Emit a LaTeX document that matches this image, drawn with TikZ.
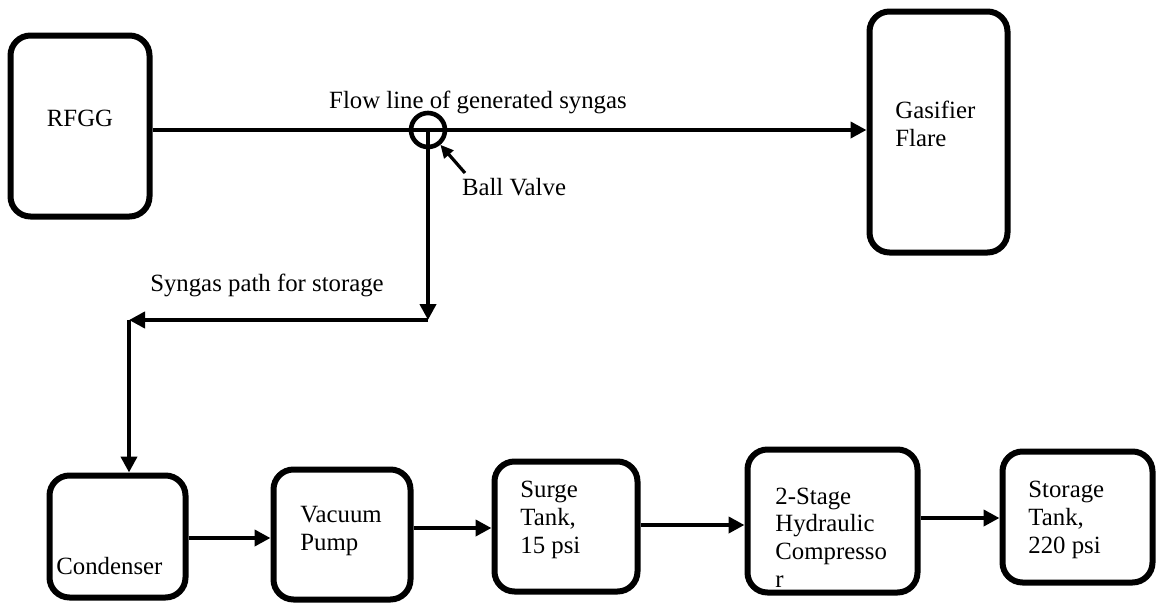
\documentclass[tikz,border=0pt]{standalone}
\usepackage{fontspec}
\setmainfont{Liberation Serif}
\usetikzlibrary{arrows.meta}
\definecolor{darkline}{HTML}{000000}
\tikzset{
  unit/.style={rectangle, rounded corners=10pt, draw=darkline, line width=3pt,
               inner sep=0pt},
  valvering/.style={circle, draw=darkline, line width=2.3pt, minimum size=17pt,
                    inner sep=0pt},
  flow/.style={-{Triangle[length=8pt, width=8pt]}, line width=2.4pt, draw=darkline},
  pointer/.style={-{Triangle[length=6.5pt, width=6pt]}, line width=1.6pt, draw=darkline},
  caption/.style={font=\fontsize{12.4}{13.8}\selectfont, inner sep=0pt},
  boxtext/.style={caption, align=left, anchor=west},
}

\begin{document}
\begin{tikzpicture}[x=0.5pt, y=-0.5pt]
\useasboundingbox (0,0) rectangle (1157,605);

% Top row: generator and flare
\node[unit, minimum width=69.5pt, minimum height=90.5pt]  (rfgg)  at (80,126)    {};
\node[unit, minimum width=69pt,   minimum height=120.5pt] (flare) at (938.5,132) {};
\node[caption] (rfggtxt) at (80,118) {RFGG};
\node[boxtext] (flaretxt) at (895,124) {Gasifier\\Flare};

% Ball valve on the syngas line
\node[valvering] (valve) at (428,130) {};
\node[caption] (flowtxt) at (478,102) {Flow line of generated syngas};
\node[caption] (valvetxt) at (514,187) {Ball Valve};
\coordinate (valvetail) at (465,173);

% Storage branch
\coordinate (bendR) at (428,320);
\coordinate (bendL) at (129,320);
\node[caption] (pathtxt) at (267,285) {Syngas path for storage};

% Bottom row: storage train
\node[unit, minimum width=68pt,   minimum height=61pt]   (cond)  at (117.5,536.5) {};
\node[unit, minimum width=68.5pt, minimum height=65pt]   (vac)   at (342,534.5)   {};
\node[unit, minimum width=71.5pt, minimum height=65pt]   (surge) at (566,526.5)   {};
\node[unit, minimum width=85pt,   minimum height=71.5pt] (comp)  at (832.5,521)   {};
\node[unit, minimum width=75pt,   minimum height=65.5pt] (store) at (1077.5,517)  {};

\node[boxtext] (condtxt)  at (56,566)   {Condenser};
\node[boxtext] (vactxt)   at (300,531)  {Vacuum\\Pump};
\node[boxtext] (surgetxt) at (520,520)  {Surge\\Tank,\\15 psi};
\node[boxtext] (comptxt)  at (775,537.5) {2-Stage\\Hydraulic\\Compresso\\r};
\node[boxtext] (storetxt) at (1028,520) {Storage\\Tank,\\220 psi};

% Flow
\draw[flow] (rfgg.east |- valve.center) -- (flare.west |- valve.center);
\draw[pointer] (valvetail) -- (valve.-50);
\draw[flow] (valve.center) -- (bendR);
\draw[flow] (bendR) -- (bendL);
\draw[flow] (bendL) -- (cond.north -| bendL);
\foreach \a/\b/\yy in {cond/vac/538, vac/surge/528, surge/comp/525, comp/store/518} {
  \draw[flow] (\a.east |- 0,\yy) -- (\b.west |- 0,\yy);
}

\end{tikzpicture}
\end{document}
